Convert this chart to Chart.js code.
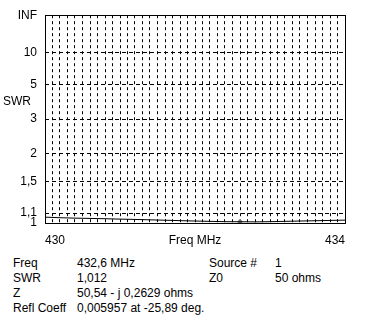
<!DOCTYPE html>
<html>
<head>
<meta charset="utf-8">
<script src="https://cdn.jsdelivr.net/npm/chart.js@4"></script>
<style>
  body { margin: 0; background: #fff; font-family: "Liberation Sans", Arial, sans-serif; font-size: 12px; color: #000; }
  #wrap { position: relative; width: 365px; height: 328px; }
  #chart-box { position: absolute; left: 0; top: 0; width: 365px; height: 250px; }
  #swr-label { position: absolute; left: 3px; top: 94px; }
  .info { position: absolute; white-space: nowrap; line-height: 14px; }
</style>
</head>
<body>
<div id="wrap">
  <div id="chart-box"><canvas id="swr-chart"></canvas></div>
  <div id="swr-label">SWR</div>
  <div class="info" style="left:13px; top:256px;">Freq</div>
  <div class="info" style="left:77px; top:256px;">432,6 MHz</div>
  <div class="info" style="left:209px; top:256px;">Source #</div>
  <div class="info" style="left:275px; top:256px;">1</div>
  <div class="info" style="left:13px; top:271px;">SWR</div>
  <div class="info" style="left:77px; top:271px;">1,012</div>
  <div class="info" style="left:209px; top:271px;">Z0</div>
  <div class="info" style="left:275px; top:271px;">50 ohms</div>
  <div class="info" style="left:13px; top:286px;">Z</div>
  <div class="info" style="left:77px; top:286px;">50,54 - j 0,2629 ohms</div>
  <div class="info" style="left:13px; top:301px;">Refl Coeff</div>
  <div class="info" style="left:77px; top:301px;">0,005957 at -25,89 deg.</div>
</div>
<script>
    // Sweep data
    const freqs = [430.0, 430.2, 430.4, 430.6, 430.8, 431.0, 431.2, 431.4, 431.6, 431.8,
                   432.0, 432.2, 432.4, 432.6, 432.8, 433.0, 433.2, 433.4, 433.6, 433.8, 434.0];
    const swrValues = [1.058, 1.052, 1.048, 1.045, 1.042, 1.038, 1.035, 1.031, 1.027, 1.023,
                       1.019, 1.016, 1.013, 1.012, 1.011, 1.013, 1.016, 1.019, 1.022, 1.025, 1.028];

    // Marker
    const markerFreq = [432.6];
    const markerSwr = [1.012];

    // Axis ticks
    const swrTicks = [1, 1.1, 1.5, 2, 3, 5, 10, Infinity];
    const swrTickLabels = ['1', '1,1', '1,5', '2', '3', '5', '10', 'INF'];
    const freqMin = 430;
    const freqMax = 434;
    const freqLabels = {430: '430', 432: 'Freq MHz', 434: '434'};

    // SWR -> reflection coefficient (the plot's vertical scale)
    function toRho(s) {
        if (!isFinite(s)) return 1;
        return (s - 1) / (s + 1);
    }

    const rhoTicks = swrTicks.map(toRho);

    const framePlugin = {
        id: 'frame',
        afterDatasetsDraw(chart) {
            const a = chart.chartArea;
            const ctx = chart.ctx;
            ctx.save();
            ctx.strokeStyle = '#000';
            ctx.lineWidth = 1;
            ctx.setLineDash([]);
            ctx.strokeRect(Math.round(a.left) + 0.5, Math.round(a.top) + 0.5,
                           Math.round(a.right - a.left), Math.round(a.bottom - a.top));
            ctx.restore();
        }
    };

    const ctx = document.getElementById('swr-chart').getContext('2d');
    new Chart(ctx, {
        type: 'line',
        data: {
            datasets: [{
                data: freqs.map((f, i) => ({x: f, y: toRho(swrValues[i])})),
                borderColor: '#000',
                borderWidth: 1,
                pointRadius: 0,
                tension: 0
            }, {
                data: markerFreq.map((f, i) => ({x: f, y: toRho(markerSwr[i])})),
                showLine: false,
                pointStyle: 'rectRot',
                pointRadius: 2.5,
                backgroundColor: '#b04cb0',
                borderColor: '#5aa85a',
                borderWidth: 1
            }]
        },
        options: {
            responsive: true,
            maintainAspectRatio: false,
            animation: false,
            events: [],
            layout: { padding: { top: 13, right: 20, left: 0, bottom: 0 } },
            plugins: {
                legend: { display: false },
                tooltip: { enabled: false }
            },
            scales: {
                x: {
                    type: 'linear',
                    min: freqMin,
                    max: freqMax,
                    afterBuildTicks: function(axis) {
                        const t = [];
                        for (let i = 0; i <= 40; i++) {
                            t.push({value: freqMin + i * 0.1});
                        }
                        axis.ticks = t;
                    },
                    afterFit: function(axis) { axis.height = 27; },
                    grid: { color: '#000', lineWidth: 1, drawTicks: false },
                    border: { display: false, dash: [3, 3] },
                    ticks: {
                        autoSkip: false,
                        maxRotation: 0,
                        align: 'inner',
                        padding: 10,
                        color: '#000',
                        font: { family: '"Liberation Sans", Arial, sans-serif', size: 12 },
                        callback: function(value) {
                            const k = Math.round(value * 10) / 10;
                            return freqLabels[k] || '';
                        }
                    }
                },
                y: {
                    type: 'linear',
                    min: 0,
                    max: 1,
                    afterBuildTicks: function(axis) {
                        axis.ticks = rhoTicks.map(v => ({value: v}));
                    },
                    afterFit: function(axis) { axis.width = 45; },
                    grid: { color: '#000', lineWidth: 1, drawTicks: false },
                    border: { display: false, dash: [4, 3] },
                    ticks: {
                        autoSkip: false,
                        padding: 8,
                        color: '#000',
                        font: { family: '"Liberation Sans", Arial, sans-serif', size: 12 },
                        callback: function(value, index) {
                            return swrTickLabels[index];
                        }
                    }
                }
            }
        },
        plugins: [framePlugin]
    });
</script>
</body>
</html>
